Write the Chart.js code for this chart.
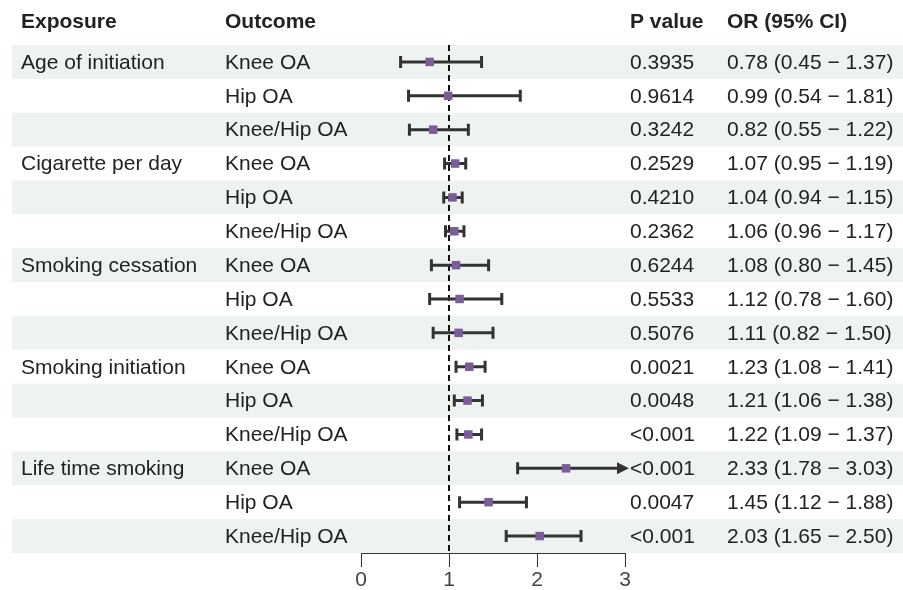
<!DOCTYPE html>
<html>
<head>
<meta charset="utf-8">
<script src="https://cdn.jsdelivr.net/npm/chart.js@4.4.1/dist/chart.umd.min.js"></script>
<style>
  html, body { margin: 0; background: #fff; }
  #forest { display: block; }
</style>
</head>
<body>
<canvas id="forest" width="903" height="590"></canvas>
<script>
// ─── Data ─────────────────────────────────────────────────────────────────────
const exposures = ['Age of initiation', 'Cigarette per day', 'Smoking cessation', 'Smoking initiation', 'Life time smoking'];
const outcomes  = ['Knee OA', 'Hip OA', 'Knee/Hip OA'];
const pValues   = ['0.3935', '0.9614', '0.3242', '0.2529', '0.4210', '0.2362', '0.6244', '0.5533', '0.5076',
                   '0.0021', '0.0048', '<0.001', '<0.001', '0.0047', '<0.001'];
const orValues  = [0.78, 0.99, 0.82, 1.07, 1.04, 1.06, 1.08, 1.12, 1.11, 1.23, 1.21, 1.22, 2.33, 1.45, 2.03];
const lowerCI   = [0.45, 0.54, 0.55, 0.95, 0.94, 0.96, 0.80, 0.78, 0.82, 1.08, 1.06, 1.09, 1.78, 1.12, 1.65];
const upperCI   = [1.37, 1.81, 1.22, 1.19, 1.15, 1.17, 1.45, 1.60, 1.50, 1.41, 1.38, 1.37, 3.03, 1.88, 2.50];
const xTicks    = [0, 1, 2, 3];
const headers   = ['Exposure', 'Outcome', 'P value', 'OR (95% CI)'];

const X_MAX = xTicks[xTicks.length - 1];
const FONT  = '"Liberation Sans", Arial, sans-serif';
const TEXT  = '#222';
const INK   = '#333';

const rows = [];
exposures.forEach((ex, g) => outcomes.forEach((oc, k) => rows.push({ exposure: k === 0 ? ex : '', outcome: oc })));

const fmt = v => v.toFixed(2);
const orText = orValues.map((v, i) => `${fmt(v)} (${fmt(lowerCI[i])} \u2212 ${fmt(upperCI[i])})`);

// column x positions for the table text
const COL = { exposure: 21, outcome: 225, p: 630, or: 727 };

// ─── Plugins ──────────────────────────────────────────────────────────────────

const bandsPlugin = {
  id: 'bands',
  beforeDraw(chart) {
    const { ctx, scales: { y } } = chart;
    ctx.save();
    ctx.fillStyle = '#eef3f1';
    rows.forEach((r, i) => {
      if (i % 2 !== 0) return;
      const top = y.getPixelForValue(i - 0.5);
      const bot = y.getPixelForValue(i + 0.5);
      ctx.fillRect(12, top, chart.width - 12, bot - top);
    });
    ctx.restore();
  }
};

const whiskerPlugin = {
  id: 'whiskers',
  beforeDatasetsDraw(chart) {
    const { ctx, chartArea, scales: { x, y } } = chart;
    ctx.save();

    // reference line at OR = 1
    ctx.strokeStyle = '#111';
    ctx.lineWidth = 2;
    ctx.setLineDash([6, 4]);
    const x1 = x.getPixelForValue(1);
    ctx.beginPath();
    ctx.moveTo(x1, chartArea.top);
    ctx.lineTo(x1, chartArea.bottom);
    ctx.stroke();
    ctx.setLineDash([]);

    ctx.strokeStyle = INK;
    ctx.fillStyle = INK;
    ctx.lineWidth = 3;
    rows.forEach((r, i) => {
      const py = y.getPixelForValue(i);
      const lo = x.getPixelForValue(lowerCI[i]);
      const clipped = upperCI[i] > X_MAX;
      const hi = x.getPixelForValue(Math.min(upperCI[i], X_MAX));
      ctx.beginPath();
      ctx.moveTo(lo, py);
      ctx.lineTo(clipped ? hi - 6 : hi, py);
      ctx.moveTo(lo, py - 6);
      ctx.lineTo(lo, py + 6);
      if (!clipped) {
        ctx.moveTo(hi, py - 6);
        ctx.lineTo(hi, py + 6);
      }
      ctx.stroke();
      if (clipped) {
        ctx.beginPath();
        ctx.moveTo(hi + 4, py);
        ctx.lineTo(hi - 8, py - 6);
        ctx.lineTo(hi - 8, py + 6);
        ctx.closePath();
        ctx.fill();
      }
    });
    ctx.restore();
  }
};

const tablePlugin = {
  id: 'table',
  afterDraw(chart) {
    const { ctx, scales: { y } } = chart;
    ctx.save();
    ctx.textBaseline = 'middle';
    ctx.textAlign = 'left';
    ctx.fillStyle = TEXT;

    ctx.font = `bold 21px ${FONT}`;
    const hy = 22;
    ctx.fillText(headers[0], COL.exposure, hy);
    ctx.fillText(headers[1], COL.outcome, hy);
    ctx.fillText(headers[2], COL.p, hy);
    ctx.fillText(headers[3], COL.or, hy);

    ctx.font = `21px ${FONT}`;
    rows.forEach((r, i) => {
      const py = y.getPixelForValue(i) + 1;
      if (r.exposure) ctx.fillText(r.exposure, COL.exposure, py);
      ctx.fillText(r.outcome, COL.outcome, py);
      ctx.fillText(pValues[i], COL.p, py);
      ctx.fillText(orText[i], COL.or, py);
    });
    ctx.restore();
  }
};

// ─── Chart ────────────────────────────────────────────────────────────────────

new Chart(document.getElementById('forest'), {
  type: 'scatter',
  data: {
    datasets: [{
      data: orValues.map((v, i) => ({ x: v, y: i })),
      pointStyle: 'rect',
      pointRadius: 6,
      pointHoverRadius: 6,
      backgroundColor: '#7a5c98',
      borderColor: '#7a5c98',
      borderWidth: 0
    }]
  },
  options: {
    responsive: false,
    animation: false,
    devicePixelRatio: 1,
    layout: { padding: { left: 361, right: 278, top: 45, bottom: 0 } },
    plugins: { legend: { display: false }, tooltip: { enabled: false } },
    scales: {
      x: {
        type: 'linear',
        min: 0,
        max: X_MAX,
        afterBuildTicks(scale) { scale.ticks = xTicks.map(v => ({ value: v })); },
        afterFit(scale) { scale.height = 37; },
        border: { display: true, color: INK, width: 1 },
        grid: { drawOnChartArea: false, drawTicks: true, tickLength: 14, color: INK, lineWidth: 1 },
        ticks: { padding: 1, color: '#444', font: { family: FONT, size: 21 } }
      },
      y: {
        type: 'linear',
        min: -0.5,
        max: rows.length - 0.5,
        reverse: true,
        display: false
      }
    }
  },
  plugins: [bandsPlugin, whiskerPlugin, tablePlugin]
});
</script>
</body>
</html>
